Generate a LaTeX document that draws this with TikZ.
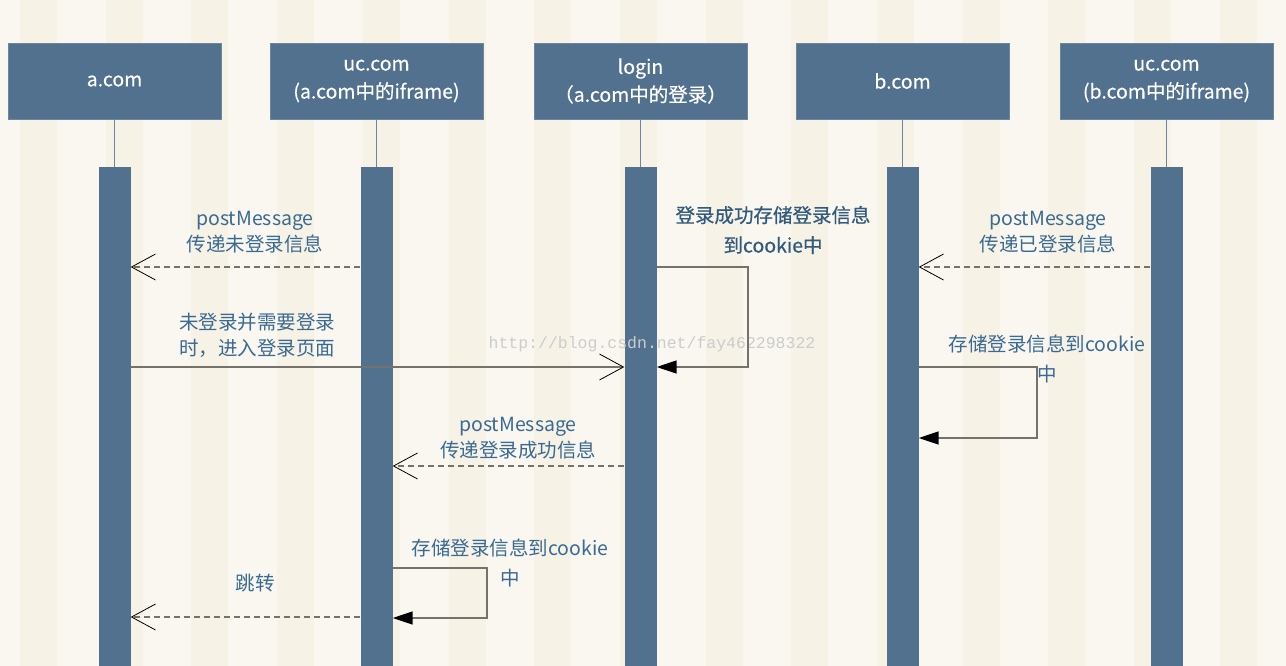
\documentclass[tikz,border=0pt]{standalone}
\usepackage{fontspec}
\setmainfont{Noto Sans CJK SC}
\newfontfamily\semifont[FakeBold=0.6]{Noto Sans CJK SC}
\newfontfamily\headfont[FakeBold=0.3]{Noto Sans CJK SC}
\newfontfamily\markfont{Liberation Mono}
\usepackage{xcolor}
\usepackage{tikz}
\usetikzlibrary{arrows.meta, positioning, calc}
\definecolor{paper}{HTML}{FAF7F1}
\definecolor{stripe}{HTML}{F6F2E6}
\definecolor{actor}{HTML}{52718F}
\definecolor{msgtext}{HTML}{3A6A92}
\definecolor{msgline}{HTML}{75716B}

\tikzset{
  head/.style={fill=actor, draw=actor!85!white, minimum width=213pt, minimum height=76pt,
    text=white, font=\headfont\fontsize{19.5}{28}\selectfont, align=center, inner sep=0pt},
  bar/.style={fill=actor, minimum width=32pt, minimum height=500pt, inner sep=0pt, anchor=north},
  life/.style={actor!85!white, line width=1.5pt},
  note/.style={text=msgtext, font=\fontsize{19.5}{26}\selectfont, align=center, inner sep=0pt},
  sync/.style={msgline, line width=1.4pt,
    -{Straight Barb[length=24pt, width=26pt, line width=0.8pt, color=black]}},
  reply/.style={sync, dash pattern=on 6pt off 4pt},
  selfmsg/.style={msgline, line width=1.5pt, -{Triangle[length=20pt, width=13pt, color=black]}}
}

\begin{document}
\begin{tikzpicture}[x=1pt, y=-1pt]
  \useasboundingbox (0,0) rectangle (1286,666);
  \fill[paper] (0,0) rectangle (1286,666);
  \foreach \x in {20,105.7,...,1286}
    \fill[stripe] (\x,0) rectangle ++(37,666);

  % participants
  \node[head] (acom)  at (114.5,81)  {a.com};
  \node[head] (ucA)   at (376.5,81)  {uc.com\\(a.com中的iframe)};
  \node[head] (login) at (640.5,81)  {login\\（a.com中的登录）};
  \node[head] (bcom)  at (902.5,81)  {b.com};
  \node[head] (ucB)   at (1166.5,81) {uc.com\\(b.com中的iframe)};

  % lifelines and activation bars
  \foreach \p in {acom, ucA, login, bcom, ucB} {
    \node[bar] (\p Bar) at (\p.south |- 0,167) {};
    \draw[life] (\p.south) -- (\p Bar.north);
  }

  % watermark
  \node[text=gray!40, font=\markfont\fontsize{16.5}{20}\selectfont] (mark) at (652,344)
    {http://blog.csdn.net/fay462298322};

  % a.com side
  \draw[reply] (ucABar.west |- 0,267) -- (acomBar.east |- 0,267);
  \node[note] (m1) at (255,232) {postMessage\\传递未登录信息};

  \draw[sync] (acomBar.east |- 0,367) -- (loginBar.west |- 0,367);
  \node[note, align=left] (m2) at (257,335) {未登录并需要登录\\时，进入登录页面};

  \draw[selfmsg] (loginBar.east |- 0,267) -| (748,367) -- (loginBar.east |- 0,367);
  \node[note, text=msgtext!85!black, font=\semifont\fontsize{19.5}{30}\selectfont] (m3) at (773,230)
    {登录成功存储登录信息\\到cookie中};

  \draw[reply] (loginBar.west |- 0,466) -- (ucABar.east |- 0,466);
  \node[note] (m4) at (518,438) {postMessage\\传递登录成功信息};

  \draw[selfmsg] (ucABar.east |- 0,568) -| (487,618) -- (ucABar.east |- 0,618);
  \node[note] (m5) at (510,563) {存储登录信息到cookie\\[4pt]中};

  \draw[reply] (ucABar.west |- 0,617) -- (acomBar.east |- 0,617);
  \node[note] (m6) at (255,583) {跳转};

  % b.com side
  \draw[reply] (ucBBar.west |- 0,267) -- (bcomBar.east |- 0,267);
  \node[note] (m7) at (1048,232) {postMessage\\传递已登录信息};

  \draw[selfmsg] (bcomBar.east |- 0,367) -| (1037,438) -- (bcomBar.east |- 0,438);
  \node[note] (m8) at (1047,359) {存储登录信息到cookie\\[4pt]中};
\end{tikzpicture}
\end{document}
